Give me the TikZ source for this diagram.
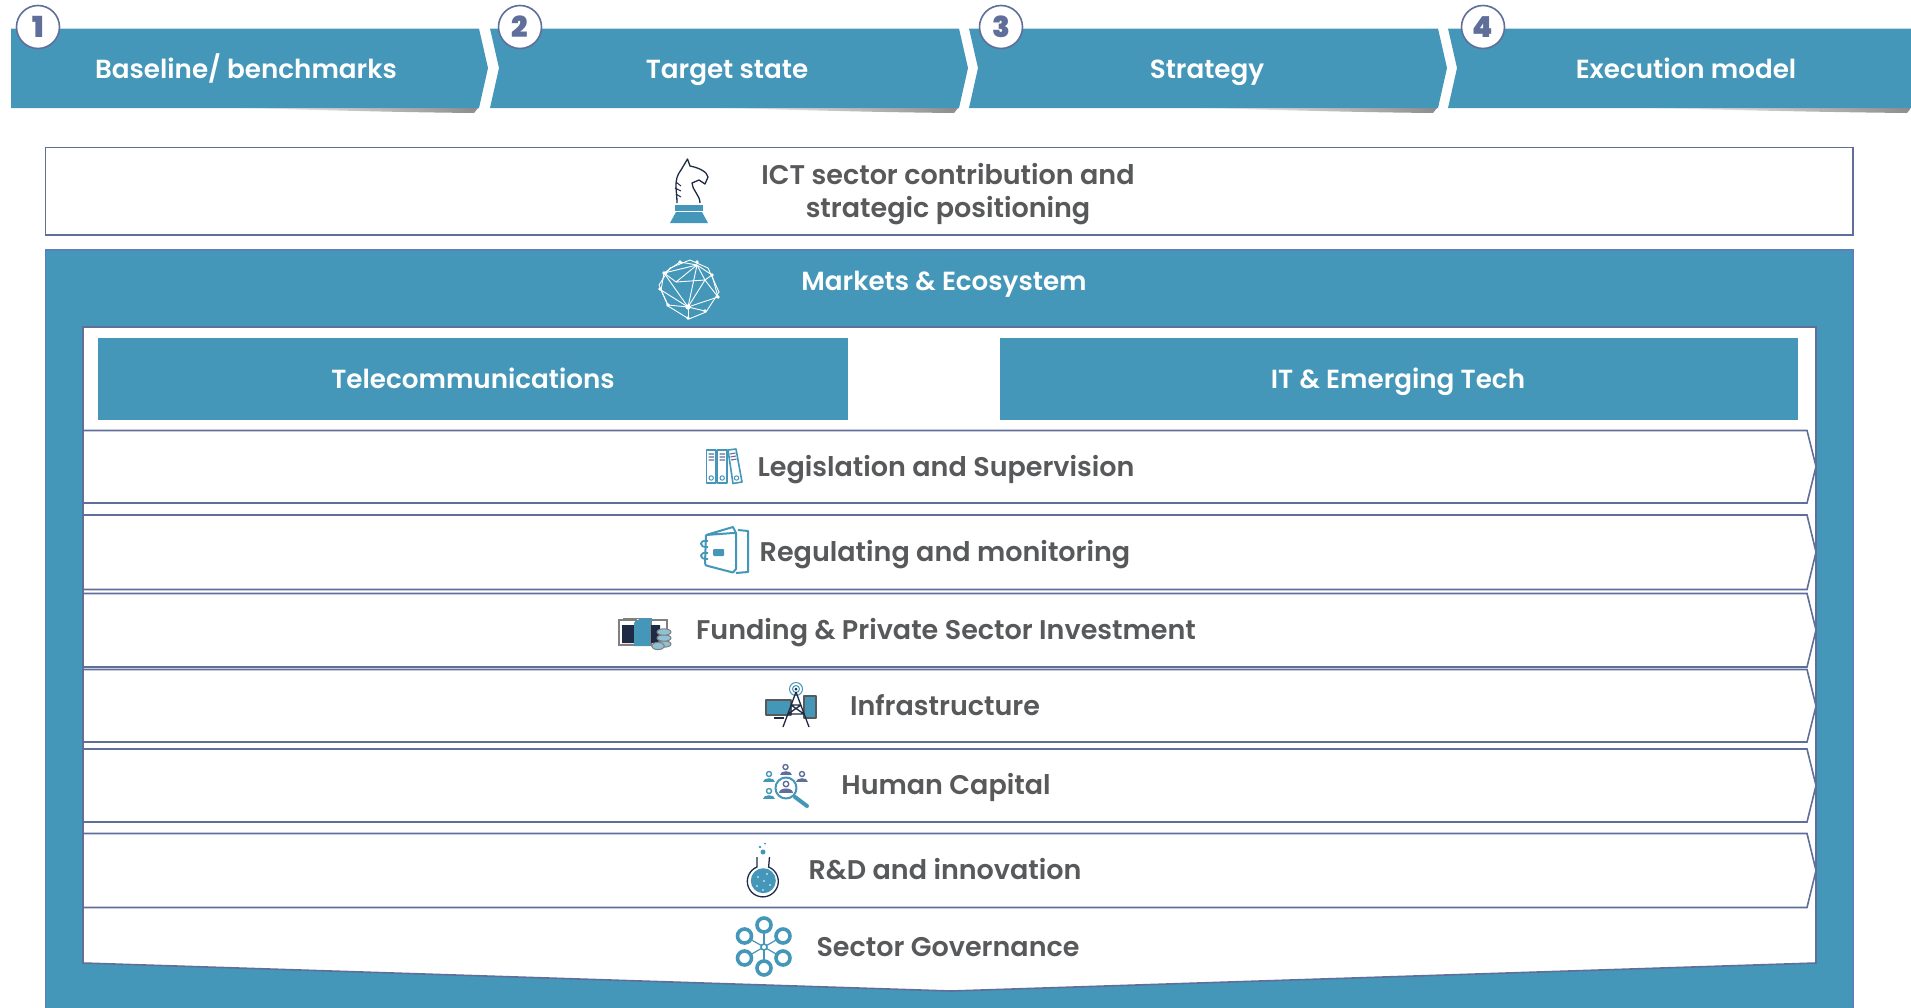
\documentclass[tikz,border=0pt]{standalone}
\usepackage{fontspec}
\setmainfont{Poppins}[UprightFont=* SemiBold]
\usetikzlibrary{shapes.geometric}
\definecolor{teal_main}{HTML}{4497B8}
\definecolor{slate}{HTML}{5F6F9A}
\definecolor{edgeblue}{HTML}{5B7FBF}
\definecolor{ink}{HTML}{58595B}
\definecolor{navy}{HTML}{1F2A44}
\tikzstyle{band}=[fill=teal_main]
\tikzstyle{strip}=[draw=slate,fill=white,line width=1.6pt,line join=miter]
\tikzstyle{lane}=[fill=teal_main]
\tikzstyle{num}=[circle,draw=slate,fill=white,line width=1.6pt,minimum size=43pt,inner sep=0pt,text=slate,font=\fontsize{29}{29}\selectfont\bfseries]
\tikzstyle{head}=[text=white,align=center,text height=18pt,text depth=0pt,font=\fontsize{26.2}{31}\selectfont]
\tikzstyle{rowtext}=[text=ink,align=center,text height=18pt,text depth=0pt,font=\fontsize{27}{33}\selectfont]
\tikzstyle{twolines}=[text=ink,align=center,font=\fontsize{27}{33}\selectfont]
\tikzstyle{icon}=[draw=teal_main,line width=1.6pt,line join=round]
\tikzstyle{darkicon}=[draw=navy,line width=1.3pt,line join=round]
\newcommand{\shadowbar}[2]{\shade[left color=white,right color=black!45] (#1,108) -- (#2,108) -- (#2-4,113) .. controls (#2-100,112) and (#1+100,110) .. (#1,108) -- cycle;}
\newcommand{\personicon}[4]{\draw[#4,line width=1.4pt] (#1,#2) circle (#3*0.5);
	\fill[#4] (#1-#3*1.2,#2+#3*1.6) .. controls (#1-#3*1.2,#2+#3*0.5) and (#1+#3*1.2,#2+#3*0.5) .. (#1+#3*1.2,#2+#3*1.6) -- cycle;}
\begin{document}
\begin{tikzpicture}[x=1pt,y=-1pt]
\useasboundingbox (0,0) rectangle (1911,1007);
% top row
\shadowbar{230}{478}
\shadowbar{710}{958}
\shadowbar{1190}{1437}
\shadowbar{1640}{1911}
\path[band] (11,28.5) -- (479,28.5) -- (488,68) -- (479,108) -- (11,108) -- cycle;
\path[band] (490,28.5) -- (959,28.5) -- (968,68) -- (959,108) -- (490,108) -- (499,68) -- cycle;
\path[band] (969,28.5) -- (1438,28.5) -- (1447,68) -- (1438,108) -- (969,108) -- (978,68) -- cycle;
\path[band] (1448,28.5) -- (1911,28.5) -- (1911,108) -- (1448,108) -- (1457,68) -- cycle;
\node[num] (step_1) at (38,27) {1};
\node[num] (step_2) at (520,27) {2};
\node[num] (step_3) at (1001,27) {3};
\node[num] (step_4) at (1483,27) {4};
\node[head] (baseline) at (246,69.5) {Baseline/ benchmarks};
\node[head] (target) at (727,69.5) {Target state};
\node[head] (strategy) at (1207,69.5) {Strategy};
\node[head] (execution) at (1686,69.5) {Execution model};
% outer boxes
\draw[strip] (45.5,147.5) rectangle (1853,235);
\draw[edgeblue,fill=teal_main,line width=1.2pt] (45.5,1010) -- (45.5,250) -- (1853,250) -- (1853,1010);
\draw[strip] (83,327) -- (1816,327) -- (1816,963) -- (951,991) -- (83,963) -- cycle;
\node[twolines] (ict) at (948,194) {ICT sector contribution and\\strategic positioning};
\node[head] (markets) at (944,281.5) {Markets \& Ecosystem};
\path[lane] (97.5,338) rectangle (848,419.5);
\path[lane] (999.5,338) rectangle (1798,419.5);
\node[head] (telecom) at (473,379) {Telecommunications};
\node[head] (emerging) at (1398,379) {IT \& Emerging Tech};
% rows
\draw[strip] (83,430.5) -- (1807,430.5) -- (1816,466.5) -- (1807,503) -- (83,503) -- cycle;
\draw[strip] (83,515) -- (1807,515) -- (1816,552) -- (1807,589.5) -- (83,589.5) -- cycle;
\draw[strip] (83,593.5) -- (1807,593.5) -- (1816,630) -- (1807,667) -- (83,667) -- cycle;
\draw[strip] (83,669.5) -- (1807,669.5) -- (1816,706) -- (1807,742) -- (83,742) -- cycle;
\draw[strip] (83,749) -- (1807,749) -- (1816,785.5) -- (1807,822) -- (83,822) -- cycle;
\draw[strip] (83,833.5) -- (1807,833.5) -- (1816,870.5) -- (1807,907.5) -- (83,907.5) -- cycle;
\node[rowtext] (legislation) at (946,467) {Legislation and Supervision};
\node[rowtext] (regulating) at (945,552) {Regulating and monitoring};
\node[rowtext] (funding) at (946,630) {Funding \& Private Sector Investment};
\node[rowtext] (infrastructure) at (945,706) {Infrastructure};
\node[rowtext] (human) at (946,785) {Human Capital};
\node[rowtext] (research) at (945,870) {R\&D and innovation};
\node[rowtext] (governance) at (948,947) {Sector Governance};
% knight
\fill[teal_main] (670,223) -- (676,212) -- (702,212) -- (708,223) -- cycle;
\fill[teal_main] (675,205) rectangle (703,211);
\draw[navy,line width=1.3pt,line join=round] (677,203) .. controls (677,190) and (673,180) .. (681,170) -- (687.5,159) -- (690,166) .. controls (700,168) and (707,172) .. (708,177) -- (705,184) -- (699,180) -- (692,183) .. controls (692,190) and (700,195) .. (700,203);
\draw[navy,line width=1pt] (676,182) -- (681,186) (675,188) -- (681,191) (676,194) -- (681,197);
% network
\draw[white,line width=0.9pt] (670,268) -- (690,260) -- (708,268) -- (719,292) -- (706,312) -- (689,319) -- (668,306) -- (659,285) -- cycle;
\foreach \a/\b in {664/273,680/262,697/262,712/275,718/297,705/311,688/318,668/305,660/289}{\fill[white] (\a,\b) circle (1.8);}
\foreach \a/\b/\c/\d in {664/273/697/265,697/265/712/275,664/273/688/307,697/265/688/307,712/275/705/280,705/280/688/307,705/280/718/297,664/273/661/290,661/290/688/307,661/290/668/305,668/305/688/307,688/307/705/311,688/307/718/297,680/262/664/273,680/262/697/265,712/275/718/297,705/280/697/265,688/307/688/318,664/273/676/282,676/282/697/265,676/282/705/280}{\draw[white,line width=0.9pt] (\a,\b) -- (\c,\d);}
\fill[white] (688,307) circle (2.6);
% binders
\draw[icon] (706.5,450) rectangle (716,483);
\draw[icon] (717.5,450) rectangle (727,483);
\draw[icon] (728,450) -- (736,449) -- (742,482) -- (733,483.5) -- cycle;
\draw[slate,line width=1.1pt] (708.5,454) -- (714,454) (708.5,457) -- (714,457) (708.5,460) -- (714,460) (719.5,454) -- (725,454) (719.5,457) -- (725,457) (719.5,460) -- (725,460) (730,454) -- (735.5,453) (730.5,457) -- (736,456) (731,460) -- (736.5,459);
\draw[teal_main,line width=1pt] (711.2,478) circle (2.2) (722.2,478) circle (2.2) (736.5,478) circle (2.2);
% notebook
\draw[icon,line width=2pt] (706,535) -- (733,527) -- (736,533) -- (736,569) -- (733,572.5) -- (708,566) .. controls (706,566) and (705,565) .. (705,563) -- (706,535) (706,535) -- (733,533) -- (736,533);
\draw[icon,line width=2pt] (738,530) -- (748,531) -- (748,572) -- (736,573);
\draw[icon,line width=1.8pt] (708,541) .. controls (699,539) and (698,548) .. (708,547) (708,553) .. controls (699,551) and (698,560) .. (708,559);
\fill[teal_main,rounded corners=1pt] (713,549) rectangle (724,556);
% funding
\draw[gray,line width=1.4pt] (619,620) rectangle (636,645) (651,620) rectangle (667,645);
\fill[navy] (622,625) rectangle (634,643) (651,625) rectangle (660,643);
\draw[gray,line width=1pt] (623,618.5) -- (652,618.5);
\fill[teal_main] (634,646) -- (634,623) .. controls (636,620) and (640,619) .. (642,618) -- (652,618) .. controls (650,622) and (650,640) .. (650,646) -- cycle;
\foreach \b in {644,638,632}{\draw[gray,fill=teal_main!60,line width=1pt] (664,\b) ellipse (7 and 3.2);}
\draw[gray,fill=teal_main!60,line width=1pt] (658,646) ellipse (6.5 and 3.6);
% infrastructure
\draw[darkicon,draw=gray!70!black,fill=teal_main] (766,700) rectangle (791,715);
\draw[darkicon] (774,718) -- (784,718);
\draw[darkicon,draw=gray!70!black,fill=teal_main] (804,696) rectangle (816,718);
\draw[icon,line width=1pt] (796,689) circle (3.5) (796,689) circle (6.5);
\fill[navy] (796,689) circle (1.5);
\draw[darkicon] (796,692) -- (783,727) (796,692) -- (809,727) (791,705) -- (801,705) (788,714) -- (804,714) (791,705) -- (804,714) (801,705) -- (788,714);
% human capital
\personicon{785.5}{767}{5}{slate}
\personicon{769}{774}{5}{teal_main}
\personicon{802}{774}{5}{slate}
\personicon{769}{791}{5}{teal_main}
\draw[icon,fill=white,line width=2pt] (786,788) circle (10.5);
\personicon{786}{784}{5.5}{slate}
\draw[teal_main,line width=4pt,line cap=round] (795,797) -- (807,806);
% flask
\draw[navy,line width=1.3pt,fill=white] (757,857) -- (757,867) arc (-112:-428:15.5 and 15.5) -- (769.5,857);
\fill[teal_main] (763.3,880.7) circle (12.5);
\foreach \a/\b in {758/877,767/874,764/881,757/886,770/885,763/890}{\fill[white] (\a,\b) circle (0.9);}
\fill[teal_main] (763,852) circle (2.5) (760,847) circle (1.3) (765,843.5) circle (1);
% sector governance
\foreach \a/\b in {764/925,783/936,783/958,764/968,744.5/958,744.5/936}{
	\draw[teal_main,line width=1.2pt] (764,947) -- (\a,\b);
	\draw[teal_main,line width=3.6pt,fill=white] (\a,\b) circle (7);}
\draw[teal_main,line width=1.6pt,fill=white] (764,947) circle (3);
\end{tikzpicture}
\end{document}
